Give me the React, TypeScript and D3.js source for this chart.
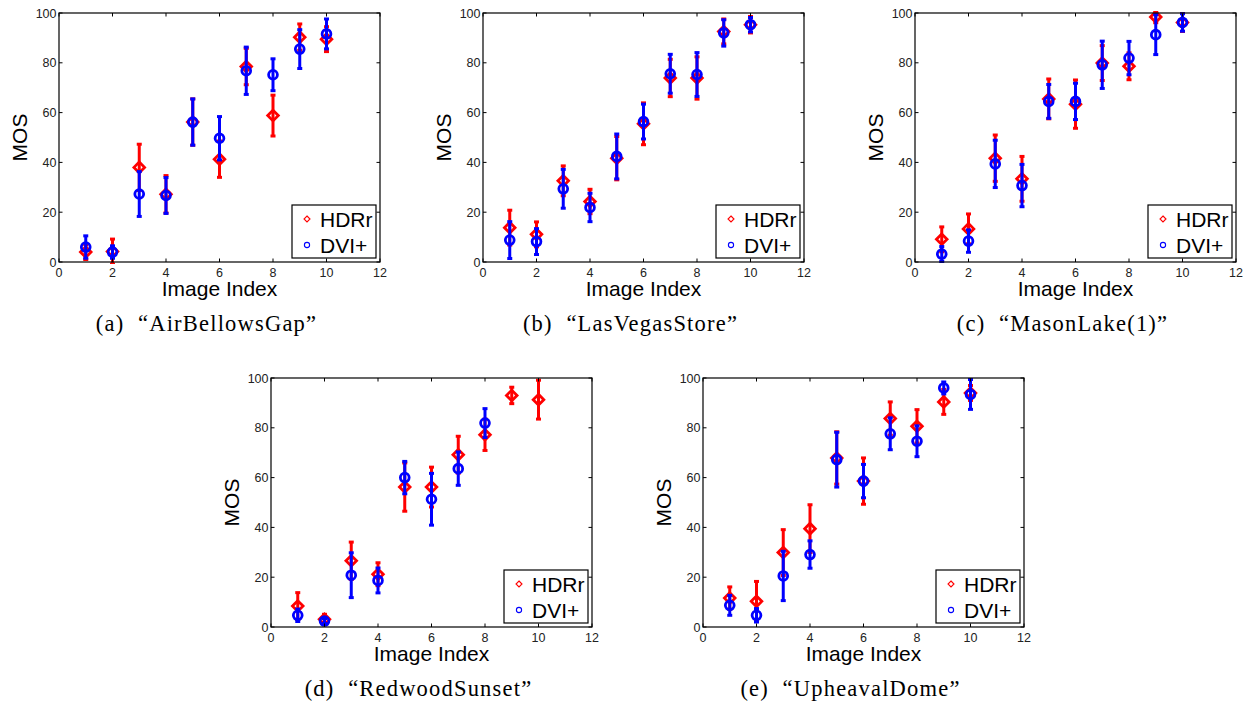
import React from "react"
import * as d3 from "d3"

const imageIndex = [1, 2, 3, 4, 5, 6, 7, 8, 9, 10]
const xTicks = [0, 2, 4, 6, 8, 10, 12]
const yTicks = [0, 20, 40, 60, 80, 100]
const seriesNames = ["HDRr", "DVI+"]

// (a) AirBellowsGap
const airHdr = [4, 4.2, 38, 27.2, 56.2, 41.3, 78.5, 58.8, 90.3, 89.5]
const airHdrErr = [3, 5, 9.3, 7.5, 9.3, 7.3, 7.3, 8.2, 5.3, 5]
const airDvi = [6, 4, 27.3, 26.7, 56.2, 49.7, 76.8, 75.2, 85.5, 91.6]
const airDviErr = [4.5, 2.5, 9, 7.2, 9.3, 8.7, 9.5, 6.4, 7.8, 6]

// (b) LasVegasStore
const lasHdr = [13.8, 11.1, 32.6, 24.3, 41.7, 55.5, 73.9, 73.9, 92.6, 95.3]
const lasHdrErr = [7, 5, 6, 4.9, 8.7, 8.4, 7.5, 8.5, 5, 3.3]
const lasDvi = [8.8, 8.2, 29.4, 21.9, 42.4, 56.4, 75.6, 75.3, 92, 95.3]
const lasDviErr = [7.4, 5.2, 7.8, 5.7, 9, 7, 7.8, 8.8, 5.3, 2.9]

// (c) MasonLake(1)
const masHdr = [9.1, 13.3, 41.7, 33.4, 65.5, 63.4, 79.9, 78.6, 98.4, 96.2]
const masHdrErr = [5, 6, 9.3, 9, 8, 9.7, 7, 5.4, 2.3, 3.6]
const masDvi = [3.2, 8.4, 39.4, 30.7, 64.5, 64.5, 79.2, 81.9, 91.3, 96.2]
const masDviErr = [3, 4.5, 9.5, 8.5, 6.8, 7.3, 9.5, 6.7, 8, 3.5]

// (d) RedwoodSunset
const redHdr = [8.4, 3.1, 26.6, 21.2, 56.2, 56.2, 69.2, 77.2, 93, 91.3]
const redHdrErr = [5.4, 2, 7.5, 4.6, 9.7, 8, 7.4, 6.3, 3.3, 7.8]
const redDvi = [4.7, 2.4, 20.8, 18.7, 60, 51.3, 63.6, 81.9]
const redDviErr = [2.5, 1, 9, 5, 6.5, 10.4, 6.7, 5.8]

// (e) UpheavalDome
const uphHdr = [11.6, 10.3, 29.9, 39.5, 67.9, 58.6, 83.7, 80.6, 90.4, 94]
const uphHdrErr = [4.5, 8, 9.2, 9.6, 10.5, 9.3, 6.7, 6.7, 5, 3]
const uphDvi = [8.7, 4.7, 20.5, 29.1, 67.2, 58.6, 77.6, 74.6, 96, 93.4]
const uphDviErr = [4, 2.7, 9.9, 5.5, 11, 6.7, 6.4, 6.2, 2.4, 6]

const captions = [
  "(a)\u00a0 \u201cAirBellowsGap\u201d",
  "(b)\u00a0 \u201cLasVegasStore\u201d",
  "(c)\u00a0 \u201cMasonLake(1)\u201d",
  "(d)\u00a0 \u201cRedwoodSunset\u201d",
  "(e)\u00a0 \u201cUpheavalDome\u201d",
]

const panelData = [
  { hdr: airHdr, hdrErr: airHdrErr, dvi: airDvi, dviErr: airDviErr },
  { hdr: lasHdr, hdrErr: lasHdrErr, dvi: lasDvi, dviErr: lasDviErr },
  { hdr: masHdr, hdrErr: masHdrErr, dvi: masDvi, dviErr: masDviErr },
  { hdr: redHdr, hdrErr: redHdrErr, dvi: redDvi, dviErr: redDviErr },
  { hdr: uphHdr, hdrErr: uphHdrErr, dvi: uphDvi, dviErr: uphDviErr },
]

// axes origins (top-left of each plot box)
const origins = [
  [59, 13],
  [483, 13],
  [915, 13],
  [271, 378],
  [703, 378],
]

const W = 321
const H = 249
const SANS = "'Liberation Sans', Arial, Helvetica, sans-serif"
const SERIF = "'Liberation Serif', 'Times New Roman', serif"
const RED = "#ff0000"
const BLUE = "#0000ff"

const diamondPath = (s: number) => `M0,${-s}L${s},0L0,${s}L${-s},0Z`

function ErrorSeries({ values, errs, color, kind, x, y }: any) {
  return (
    <g>
      {values.map((v: number, i: number) => {
        const cx = x(imageIndex[i])
        const y0 = y(v - errs[i])
        const y1 = y(v + errs[i])
        return (
          <g key={i}>
            <line x1={cx} x2={cx} y1={y0} y2={y1} stroke={color} strokeWidth={3} />
            <line x1={cx - 2.5} x2={cx + 2.5} y1={y0} y2={y0} stroke={color} strokeWidth={3} />
            <line x1={cx - 2.5} x2={cx + 2.5} y1={y1} y2={y1} stroke={color} strokeWidth={3} />
            {kind === "diamond" ? (
              <path d={diamondPath(5.3)} transform={`translate(${cx},${y(v)})`} fill="none" stroke={color} strokeWidth={2.8} />
            ) : (
              <circle cx={cx} cy={y(v)} r={4.4} fill="none" stroke={color} strokeWidth={2.8} />
            )}
          </g>
        )
      })}
    </g>
  )
}

function Panel({ idx }: { idx: number }) {
  const [left, top] = origins[idx]
  const d = panelData[idx]
  const x = d3.scaleLinear().domain([0, 12]).range([0, W])
  const y = d3.scaleLinear().domain([0, 100]).range([H, 0])
  const tick = 3.5

  return (
    <g transform={`translate(${left},${top})`} fontFamily={SANS}>
      <rect x={0} y={0} width={W} height={H} fill="white" />
      <g clipPath={`url(#clip${idx})`}>
        <ErrorSeries values={d.hdr} errs={d.hdrErr} color={RED} kind="diamond" x={x} y={y} />
        <ErrorSeries values={d.dvi} errs={d.dviErr} color={BLUE} kind="circle" x={x} y={y} />
      </g>
      <defs>
        <clipPath id={`clip${idx}`}>
          <rect x={-10} y={-2} width={W + 20} height={H + 4} />
        </clipPath>
      </defs>

      {/* ticks on all four sides */}
      {xTicks.map((t) => (
        <g key={"xt" + t}>
          <line x1={x(t)} x2={x(t)} y1={H} y2={H - tick} stroke="#000" strokeWidth={1} />
          <line x1={x(t)} x2={x(t)} y1={0} y2={tick} stroke="#000" strokeWidth={1} />
          <text x={x(t)} y={H + 14.5} fontSize={12.5} textAnchor="middle" fill="#222">{t}</text>
        </g>
      ))}
      {yTicks.map((t) => (
        <g key={"yt" + t}>
          <line x1={0} x2={tick} y1={y(t)} y2={y(t)} stroke="#000" strokeWidth={1} />
          <line x1={W} x2={W - tick} y1={y(t)} y2={y(t)} stroke="#000" strokeWidth={1} />
          <text x={-2.5} y={y(t) + 4.5} fontSize={12.5} textAnchor="end" fill="#222">{t}</text>
        </g>
      ))}
      <rect x={0} y={0} width={W} height={H} fill="none" stroke="#000" strokeWidth={1.2} />

      {/* legend */}
      <g transform={`translate(${W - 88},${H - 57})`}>
        <rect x={0} y={0} width={84} height={53} fill="white" stroke="#000" strokeWidth={1.2} />
        <path d={diamondPath(3)} transform="translate(15,14)" fill="none" stroke={RED} strokeWidth={1.1} />
        <circle cx={15} cy={40} r={2.6} fill="none" stroke={BLUE} strokeWidth={1.1} />
        <text x={28} y={21.5} fontSize={21} fill="#000">{seriesNames[0]}</text>
        <text x={28} y={47.5} fontSize={21} fill="#000">{seriesNames[1]}</text>
      </g>

      <text x={W / 2} y={H + 34} fontSize={21} textAnchor="middle" fill="#000">Image Index</text>
      <text transform={`translate(${-32},${H / 2}) rotate(-90)`} fontSize={21} textAnchor="middle" fill="#000">MOS</text>
      <text x={W / 2 - 13} y={H + 69} fontSize={22.5} fontFamily={SERIF} textAnchor="middle" letterSpacing={1.2} fill="#000">
        {captions[idx]}
      </text>
    </g>
  )
}

export default function App() {
  return (
    <svg
      width={1253}
      height={706}
      style={{ position: "absolute", left: 0, top: 0, background: "white" }}
    >
      <rect width={1253} height={706} fill="white" />
      {panelData.map((_, i) => (
        <Panel key={i} idx={i} />
      ))}
    </svg>
  )
}
